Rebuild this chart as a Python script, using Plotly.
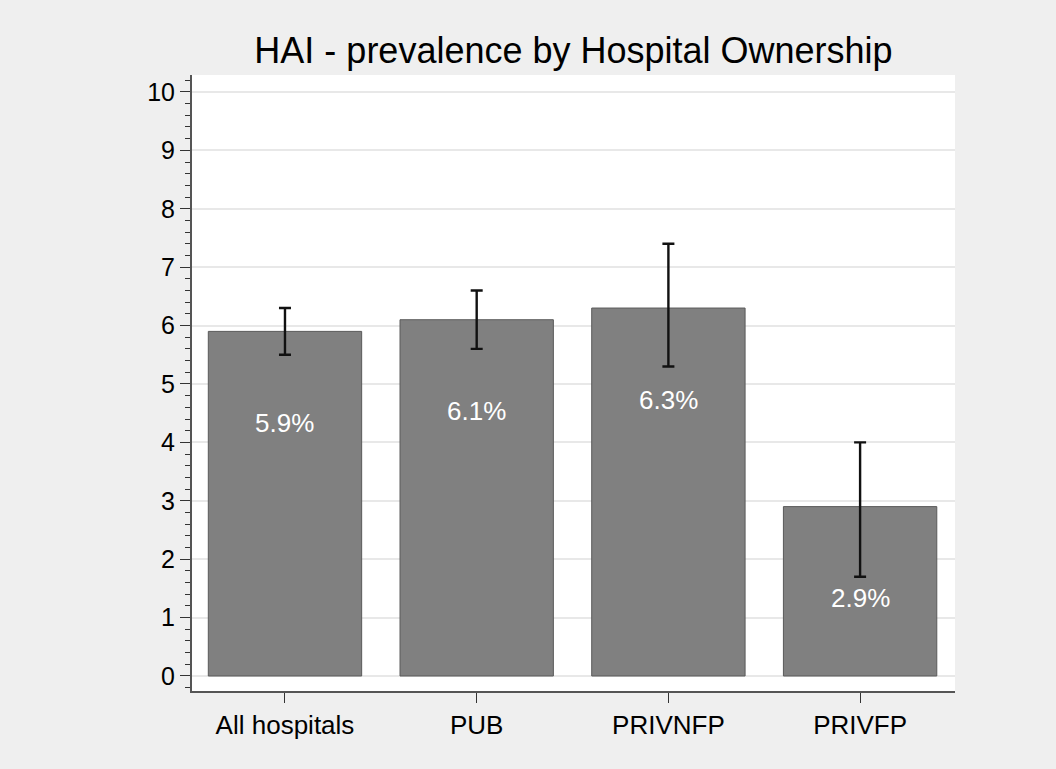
import plotly.graph_objects as go

categories = ["All hospitals", "PUB", "PRIVNFP", "PRIVFP"]
prevalence = [5.9, 6.1, 6.3, 2.9]
ci_low = [5.5, 5.6, 5.3, 1.7]
ci_high = [6.3, 6.6, 7.4, 4.0]
value_labels = ["5.9%", "6.1%", "6.3%", "2.9%"]

err_plus = [h - v for h, v in zip(ci_high, prevalence)]
err_minus = [v - l for v, l in zip(prevalence, ci_low)]

FONT = "Liberation Sans, Arial"

fig = go.Figure()
fig.add_trace(go.Bar(
    x=categories, y=prevalence, width=0.8,
    marker=dict(color="#808080", line=dict(color="#5a5a5a", width=1)),
    showlegend=False, hoverinfo="skip",
))
fig.add_trace(go.Scatter(
    x=categories, y=prevalence, mode="markers",
    marker=dict(size=0.1, color="rgba(0,0,0,0)"),
    error_y=dict(type="data", symmetric=False, array=err_plus, arrayminus=err_minus,
                 color="#111111", thickness=2.4, width=6),
    showlegend=False, hoverinfo="skip",
))
for c, v, t in zip(categories, prevalence, value_labels):
    fig.add_annotation(x=c, y=v - 1.57, text=t, showarrow=False,
                       font=dict(family=FONT, size=26, color="white"))

fig.update_layout(
    width=1056, height=769,
    paper_bgcolor="#efefef", plot_bgcolor="white",
    margin=dict(l=192, r=101, t=75, b=78),
    title=dict(text="HAI - prevalence by Hospital Ownership", x=(192 + 955) / 2 / 1056,
               xanchor="center", y=1 - 50 / 769, yanchor="middle",
               font=dict(family=FONT, size=36, color="black")),
    font=dict(family=FONT, color="black"),
)
fig.update_xaxes(
    range=[-0.485, 3.495], showgrid=False, showline=True, linecolor="#555555", linewidth=2,
    ticks="outside", ticklen=10, tickwidth=1.2, tickcolor="#333333",
    tickfont=dict(size=26), zeroline=False,
)
fig.update_yaxes(
    range=[-0.257, 10.29], tickmode="linear", tick0=0, dtick=1,
    showgrid=True, gridcolor="#e8e8e8", gridwidth=2,
    showline=True, linecolor="#555555", linewidth=2, zeroline=False,
    ticks="outside", ticklen=10, tickwidth=1.2, tickcolor="#333333",
    tickfont=dict(size=25),
    minor=dict(tickmode="linear", tick0=0, dtick=0.2, ticks="outside", ticklen=5,
               tickcolor="#333333", tickwidth=1.2, showgrid=False),
)
fig.write_html("out.html", config={"displayModeBar": False},
               post_script="document.body.style.margin='0';")
